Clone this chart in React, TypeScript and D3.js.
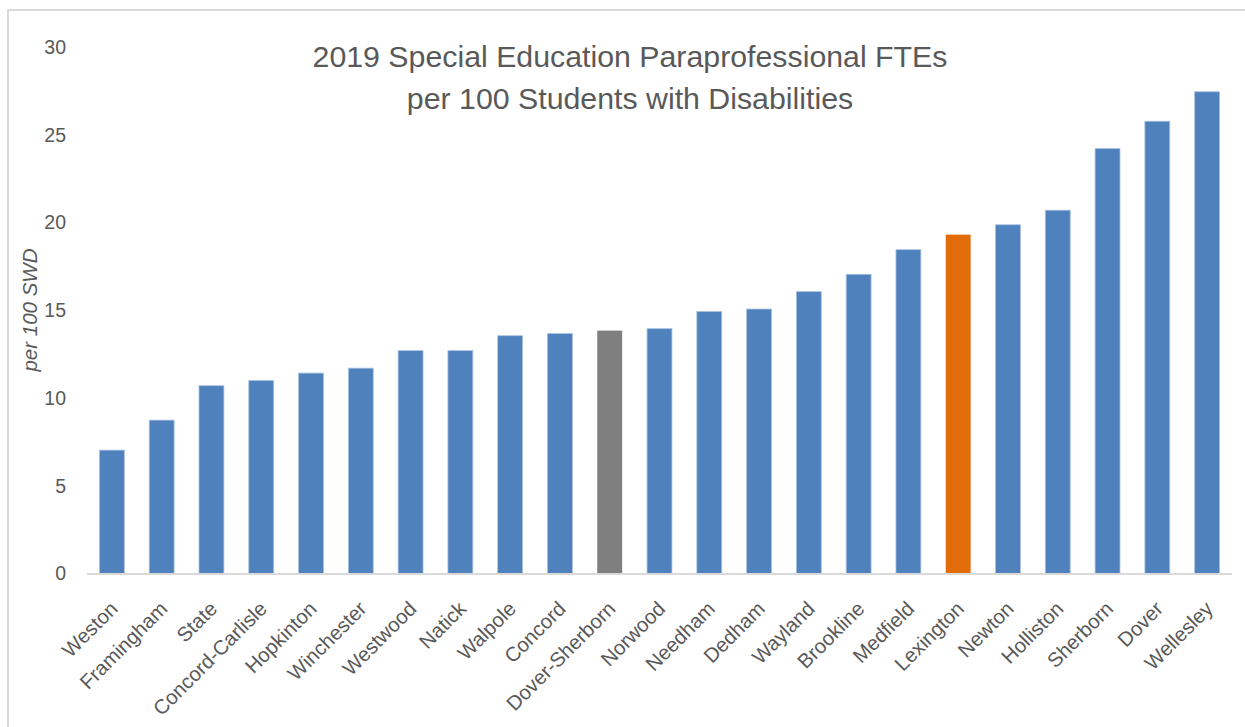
import React from "react";
import * as d3 from "d3";

const districts = [
  "Weston", "Framingham", "State", "Concord-Carlisle", "Hopkinton", "Winchester",
  "Westwood", "Natick", "Walpole", "Concord", "Dover-Sherborn", "Norwood",
  "Needham", "Dedham", "Wayland", "Brookline", "Medfield", "Lexington",
  "Newton", "Holliston", "Sherborn", "Dover", "Wellesley",
];
const fteValues = [
  7.03, 8.74, 10.7, 11.0, 11.42, 11.7, 12.7, 12.7, 13.55, 13.67, 13.84, 13.95,
  14.93, 15.07, 16.06, 17.05, 18.45, 19.31, 19.87, 20.7, 24.21, 25.77, 27.45,
];
const yTicks = [0, 5, 10, 15, 20, 25, 30];
const highlightGray = "Dover-Sherborn";
const highlightOrange = "Lexington";
const titleLines = [
  "2019 Special Education Paraprofessional FTEs",
  "per 100 Students with Disabilities",
];
const yAxisTitle = "per 100 SWD";

const W = 1245;
const H = 727;
const FONT = "'Liberation Sans', Arial, sans-serif";
const TEXT = "#595959";

export default function App() {
  const x = d3.scaleBand<string>().domain(districts).range([87, 1232]).paddingInner(0.5).paddingOuter(0.25);
  const y = d3.scaleLinear().domain([0, 30]).range([573.5, 47]);
  const color = (d: string) =>
    d === highlightGray ? "#7f7f7f" : d === highlightOrange ? "#e36c0a" : "#4f81bd";

  return (
    <div style={{ position: "fixed", left: 0, top: 0 }}>
      <svg width={W} height={H} style={{ display: "block", background: "#fff" }}>
        <rect x={8} y={10} width={1300} height={900} fill="#fff" stroke="#d9d9d9" strokeWidth={2} />
        {titleLines.map((t, i) => (
          <text key={i} x={630} y={67 + i * 41.5} textAnchor="middle" fontFamily={FONT} fontSize={30.3} fill={TEXT}>
            {t}
          </text>
        ))}
        <text
          transform={`translate(37,310) rotate(-90)`}
          textAnchor="middle"
          fontFamily={FONT}
          fontSize={20.5}
          fontStyle="italic"
          fill={TEXT}
        >
          {yAxisTitle}
        </text>
        {yTicks.map((t) => (
          <text key={t} x={66} y={y(t)} dy="0.35em" textAnchor="end" fontFamily={FONT} fontSize={19.5} fill={TEXT}>
            {t}
          </text>
        ))}
        {districts.map((d, i) => (
          <rect
            key={d}
            x={x(d)}
            y={y(fteValues[i])}
            width={x.bandwidth()}
            height={y(0) - y(fteValues[i])}
            fill={color(d)}
            stroke={d === highlightGray || d === highlightOrange ? "none" : "#a9c1e0"}
            strokeWidth={0.8}
          />
        ))}
        <line x1={87} x2={1232} y1={574} y2={574} stroke="#d9d9d9" strokeWidth={2} />
        {districts.map((d) => (
          <text
            key={d}
            transform={`translate(${(x(d) as number) + x.bandwidth() / 2 + 2},${605}) rotate(-45)`}
            textAnchor="end"
            dy="0.35em"
            fontFamily={FONT}
            fontSize={20.3}
            fill={TEXT}
          >
            {d}
          </text>
        ))}
      </svg>
    </div>
  );
}
